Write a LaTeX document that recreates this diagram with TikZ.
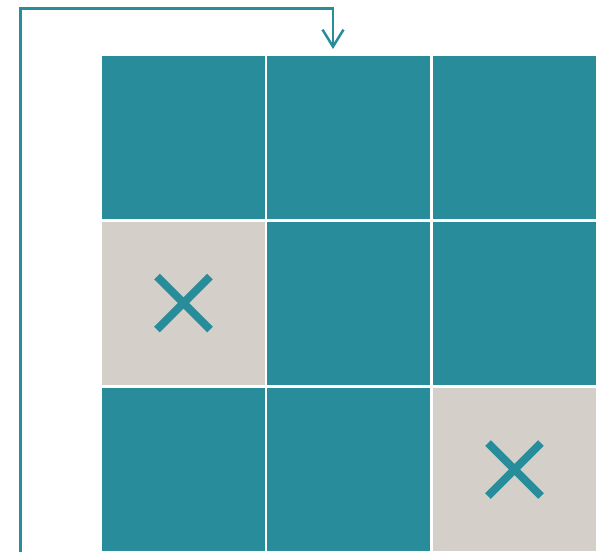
\documentclass[tikz,border=0pt]{standalone}
\usetikzlibrary{arrows.meta}
\definecolor{tealc}{HTML}{288C9B}
\definecolor{sandc}{HTML}{D4D0C9}
\begin{document}
\begin{tikzpicture}[x=1pt,y=-1pt,
  cellbox/.style={minimum width=163pt,minimum height=163pt,inner sep=0pt,outer sep=0pt,fill=tealc},
  blocked/.style={cellbox,fill=sandc},
  xmark/.style={draw=tealc,line width=8pt,line cap=butt},
  link/.style={draw=tealc,line width=2.5pt,-{Straight Barb[length=17pt,width=21pt,line width=2.5pt]}}]
\useasboundingbox (0,0) rectangle (603,552);
\fill[white] (0,0) rectangle (603,552);
% row 1
\node[cellbox] (c11) at (183.5,137.5) {};
\node[cellbox] (c12) at (348.5,137.5) {};
\node[cellbox] (c13) at (514.5,137.5) {};
% row 2
\node[blocked] (c21) at (183.5,303) {};
\node[cellbox] (c22) at (348.5,303) {};
\node[cellbox] (c23) at (514.5,303) {};
% row 3
\node[cellbox] (c31) at (183.5,469.5) {};
\node[cellbox] (c32) at (348.5,469.5) {};
\node[blocked] (c33) at (514.5,469.5) {};
% crosses
\draw[xmark] ([shift={(-26.5,-26.5)}]c21.center) -- ([shift={(26.5,26.5)}]c21.center);
\draw[xmark] ([shift={(-26.5,26.5)}]c21.center) -- ([shift={(26.5,-26.5)}]c21.center);
\draw[xmark] ([shift={(-26.5,-26.5)}]c33.center) -- ([shift={(26.5,26.5)}]c33.center);
\draw[xmark] ([shift={(-26.5,26.5)}]c33.center) -- ([shift={(26.5,-26.5)}]c33.center);
% connector
\coordinate (start) at (20.5,553);
\coordinate (bendA) at (20.5,8.3);
\coordinate (bendB) at (333,8.3);
\coordinate (tip) at (333,49);
\draw[link] (start) -- (bendA) -- (bendB) -- (tip);
\end{tikzpicture}
\end{document}
